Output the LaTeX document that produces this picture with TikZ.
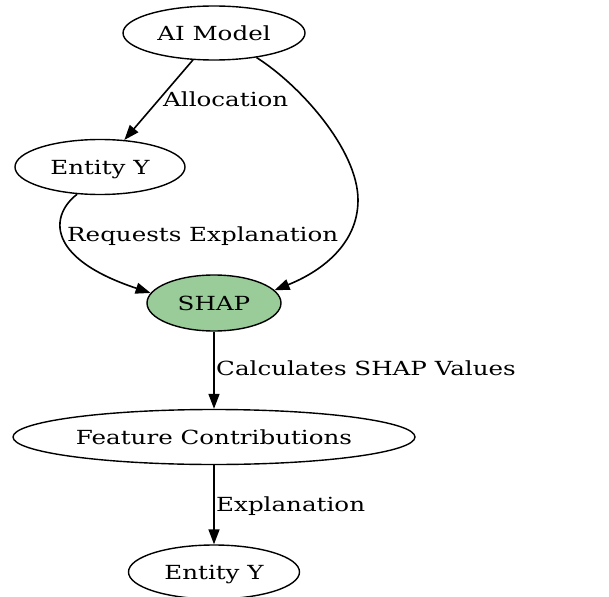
\documentclass[tikz,border=0pt]{standalone}
\usepackage{fontspec}
\setmainfont[FakeStretch=1.265]{DejaVu Serif}
\usetikzlibrary{shapes.geometric,arrows.meta}
\definecolor{shapgreen}{RGB}{153,204,153}
\begin{document}
\begin{tikzpicture}[x=1bp,y=-1bp,
  every node/.style={font=\fontsize{19.5}{23}\selectfont},
  oval/.style={ellipse,draw,line width=1.4bp,inner sep=0pt,text height=14.3bp,text depth=0pt},
  conn/.style={line width=1.6bp,-{Triangle[length=15bp,width=11bp]}},
  lbl/.style={anchor=base west,inner sep=0pt}]
\useasboundingbox (0,0) rectangle (609,597);
\node[oval,minimum width=182bp,minimum height=54bp] (ai) at (214,33) {AI Model};
\node[oval,minimum width=170bp,minimum height=55bp] (ey1) at (100,167) {Entity Y};
\node[oval,fill=shapgreen,minimum width=134bp,minimum height=56bp] (shap) at (214,303) {SHAP};
\node[oval,minimum width=402bp,minimum height=55bp] (fc) at (214,437) {Feature Contributions};
\node[oval,minimum width=171bp,minimum height=54bp] (ey2) at (214,572) {Entity Y};
\draw[conn] (ai.-128) -- (ey1.48);
\draw[conn] (ai.-30) .. controls (300,85) and (358,150) .. (358,200)
  .. controls (358,245) and (320,272) .. (shap.12);
\draw[conn] (ey1.-130) .. controls (50,215) and (45,258) .. (shap.171);
\draw[conn] (shap) -- (fc);
\draw[conn] (fc) -- (ey2);
\node[lbl] (l1) at (163,107) {Allocation};
\node[lbl] (l2) at (67,241) {Requests Explanation};
\node[lbl] (l3) at (216,375) {Calculates SHAP Values};
\node[lbl] (l4) at (216,511) {Explanation};
\end{tikzpicture}
\end{document}
